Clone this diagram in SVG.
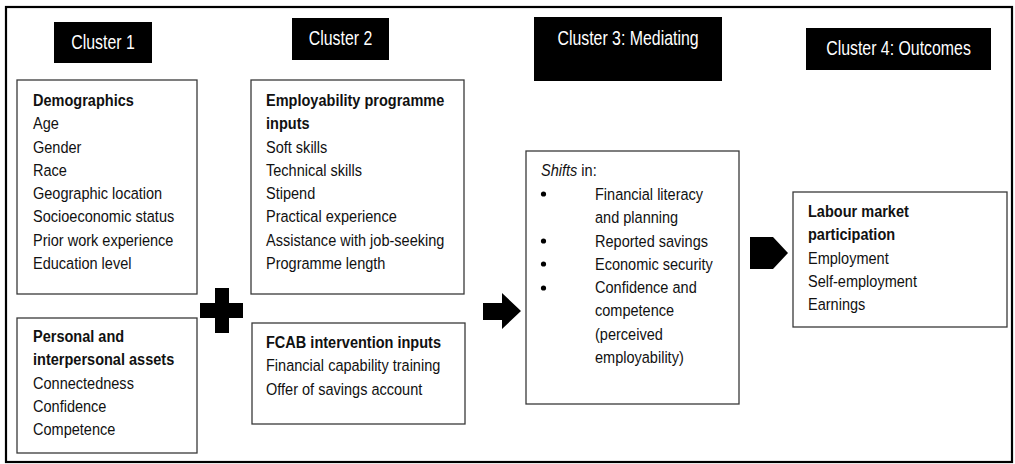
<svg xmlns="http://www.w3.org/2000/svg" width="1015" height="464" viewBox="0 0 1015 464">
  <style>
    .frame { fill: #ffffff; stroke: #000000; stroke-width: 2.2; }
    .box { fill: #ffffff; stroke: #3a3a3a; stroke-width: 1.3; }
    .head { fill: #000000; }
    .headtxt { font-family: "Liberation Sans", Arial, sans-serif; font-size: 19.5px; fill: #ffffff; text-anchor: middle; }
    .txt { font-family: "Liberation Sans", Arial, sans-serif; font-size: 17px; fill: #111111; }
    .b { font-weight: bold; }
    .i { font-style: italic; }
    .sym { fill: #000000; }
  </style>

  <!-- outer frame -->
  <rect class="frame" x="6" y="7" width="1006" height="455"/>

  <!-- cluster headings (narrow type: horizontally condensed text) -->
  <g id="cluster1-head">
    <rect class="head" x="54" y="22" width="98" height="41"/>
    <g transform="translate(103 0) scale(0.815 1)"><text class="headtxt" x="0" y="49">Cluster 1</text></g>
  </g>
  <g id="cluster2-head">
    <rect class="head" x="292" y="18" width="97" height="42"/>
    <g transform="translate(340.5 0) scale(0.815 1)"><text class="headtxt" x="0" y="45">Cluster 2</text></g>
  </g>
  <g id="cluster3-head">
    <rect class="head" x="534" y="17" width="188" height="64"/>
    <g transform="translate(628 0) scale(0.815 1)"><text class="headtxt" x="0" y="45">Cluster 3: Mediating</text></g>
  </g>
  <g id="cluster4-head">
    <rect class="head" x="806" y="28" width="185" height="42"/>
    <g transform="translate(898.5 0) scale(0.815 1)"><text class="headtxt" x="0" y="55">Cluster 4: Outcomes</text></g>
  </g>

  <!-- cluster 1 -->
  <g id="demographics">
    <rect class="box" x="17" y="80" width="180" height="214"/>
    <g transform="translate(33 0) scale(0.855 1)">
      <text class="txt">
        <tspan class="b" x="0" y="106">Demographics</tspan>
        <tspan x="0" y="129.3">Age</tspan>
        <tspan x="0" y="152.6">Gender</tspan>
        <tspan x="0" y="175.9">Race</tspan>
        <tspan x="0" y="199.2">Geographic location</tspan>
        <tspan x="0" y="222.5">Socioeconomic status</tspan>
        <tspan x="0" y="245.8">Prior work experience</tspan>
        <tspan x="0" y="269.1">Education level</tspan>
      </text>
    </g>
  </g>
  <g id="personal-assets">
    <rect class="box" x="17" y="318" width="180" height="135"/>
    <g transform="translate(33 0) scale(0.855 1)">
      <text class="txt">
        <tspan class="b" x="0" y="342">Personal and</tspan>
        <tspan class="b" x="0" y="365.3">interpersonal assets</tspan>
        <tspan x="0" y="388.6">Connectedness</tspan>
        <tspan x="0" y="411.9">Confidence</tspan>
        <tspan x="0" y="435.2">Competence</tspan>
      </text>
    </g>
  </g>

  <!-- cluster 2 -->
  <g id="employability-inputs">
    <rect class="box" x="251" y="80" width="213" height="214"/>
    <g transform="translate(266 0) scale(0.855 1)">
      <text class="txt">
        <tspan class="b" x="0" y="106">Employability programme</tspan>
        <tspan class="b" x="0" y="129.3">inputs</tspan>
        <tspan x="0" y="152.6">Soft skills</tspan>
        <tspan x="0" y="175.9">Technical skills</tspan>
        <tspan x="0" y="199.2">Stipend</tspan>
        <tspan x="0" y="222.5">Practical experience</tspan>
        <tspan x="0" y="245.8">Assistance with job-seeking</tspan>
        <tspan x="0" y="269.1">Programme length</tspan>
      </text>
    </g>
  </g>
  <g id="fcab-inputs">
    <rect class="box" x="252" y="323" width="213" height="101"/>
    <g transform="translate(266 0) scale(0.855 1)">
      <text class="txt">
        <tspan class="b" x="0" y="348">FCAB intervention inputs</tspan>
        <tspan x="0" y="371.3">Financial capability training</tspan>
        <tspan x="0" y="394.6">Offer of savings account</tspan>
      </text>
    </g>
  </g>

  <!-- cluster 3 -->
  <g id="mediating">
    <rect class="box" x="526" y="151" width="213" height="253"/>
    <g transform="translate(541 0) scale(0.855 1)">
      <text class="txt" x="0" y="176"><tspan class="i">Shifts</tspan> in:</text>
    </g>
    <circle class="sym" cx="543.5" cy="194" r="2.6"/>
    <circle class="sym" cx="543.5" cy="241" r="2.6"/>
    <circle class="sym" cx="543.5" cy="264" r="2.6"/>
    <circle class="sym" cx="543.5" cy="288" r="2.6"/>
    <g transform="translate(595 0) scale(0.855 1)">
      <text class="txt">
        <tspan x="0" y="200">Financial literacy</tspan>
        <tspan x="0" y="223.3">and planning</tspan>
        <tspan x="0" y="246.6">Reported savings</tspan>
        <tspan x="0" y="269.9">Economic security</tspan>
        <tspan x="0" y="293.2">Confidence and</tspan>
        <tspan x="0" y="316.5">competence</tspan>
        <tspan x="0" y="339.8">(perceived</tspan>
        <tspan x="0" y="363.1">employability)</tspan>
      </text>
    </g>
  </g>

  <!-- cluster 4 -->
  <g id="outcomes">
    <rect class="box" x="793" y="192" width="214" height="135"/>
    <g transform="translate(808 0) scale(0.855 1)">
      <text class="txt">
        <tspan class="b" x="0" y="217">Labour market</tspan>
        <tspan class="b" x="0" y="240.3">participation</tspan>
        <tspan x="0" y="263.6">Employment</tspan>
        <tspan x="0" y="286.9">Self-employment</tspan>
        <tspan x="0" y="310.2">Earnings</tspan>
      </text>
    </g>
  </g>

  <!-- connectors: plus sign and block arrows between clusters -->
  <g id="connectors">
    <path class="sym" d="M215 288 H229 V303 H243 V318 H229 V333 H215 V318 H200 V303 H215 Z"/>
    <path class="sym" d="M483 303 H502 V293 L521 311 L502 329 V320 H483 Z"/>
    <path class="sym" d="M750 237 H773 L788 253 L773 269 H750 Z"/>
  </g>
</svg>
